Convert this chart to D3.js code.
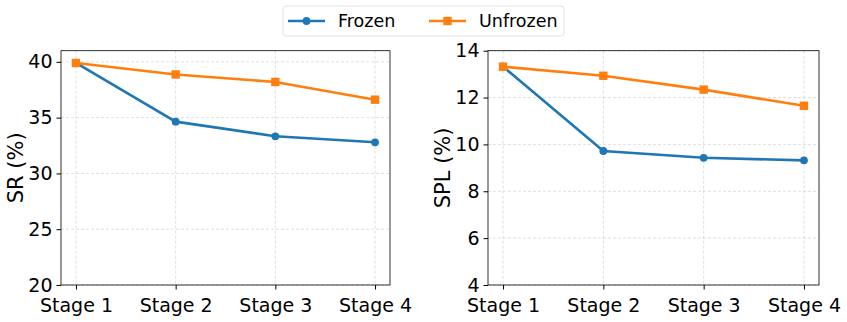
<!DOCTYPE html>
<html>
<head>
<meta charset="UTF-8">
<script src="https://d3js.org/d3.v7.min.js"></script>
<style>
  body { margin: 0; background: #fff; }
  svg text { font-family: "DejaVu Sans", sans-serif; fill: #000; }
</style>
</head>
<body>
<svg id="chart"></svg>
<script>
// data
const stages = ["Stage 1", "Stage 2", "Stage 3", "Stage 4"];
const seriesNames = ["Frozen", "Unfrozen"];
const srFrozen = [39.9, 34.64, 33.33, 32.79];
const srUnfrozen = [39.9, 38.87, 38.2, 36.61];
const splFrozen = [13.32, 9.72, 9.43, 9.32];
const splUnfrozen = [13.32, 12.93, 12.34, 11.65];
const srTicks = [20, 25, 30, 35, 40];
const splTicks = [4, 6, 8, 10, 12, 14];

const colors = ["#1f77b4", "#ff7f0e"];
const W = 847, H = 322;
const svg = d3.select("#chart").attr("width", W).attr("height", H);

function drawPanel(left, right, top, bottom, yDomain, yTicks, ylabel, labelX, frozen, unfrozen) {
  const x = d3.scaleLinear().domain([-0.15, 3.15]).range([left, right]);
  const y = d3.scaleLinear().domain(yDomain).range([bottom, top]);
  const g = svg.append("g");

  // grid
  g.selectAll(".gx").data(stages).enter().append("line")
    .attr("x1", (d, i) => x(i)).attr("x2", (d, i) => x(i))
    .attr("y1", top).attr("y2", bottom)
    .attr("stroke", "#b0b0b0").attr("stroke-opacity", 0.5)
    .attr("stroke-width", 0.8).attr("stroke-dasharray", "3,2");
  g.selectAll(".gy").data(yTicks).enter().append("line")
    .attr("x1", left).attr("x2", right)
    .attr("y1", d => y(d)).attr("y2", d => y(d))
    .attr("stroke", "#b0b0b0").attr("stroke-opacity", 0.5)
    .attr("stroke-width", 0.8).attr("stroke-dasharray", "3,2");

  // axes
  const xAxis = d3.axisBottom(x).tickValues([0, 1, 2, 3])
    .tickFormat(i => stages[i]).tickSizeInner(4.5).tickSizeOuter(0).tickPadding(9.5);
  const gx = g.append("g").attr("transform", `translate(0,${bottom})`).call(xAxis);
  gx.select(".domain").remove();
  gx.selectAll("text").style("font-size", "19px");

  const yAxis = d3.axisLeft(y).tickValues(yTicks)
    .tickSizeInner(4.5).tickSizeOuter(0).tickPadding(4);
  const gy = g.append("g").attr("transform", `translate(${left},0)`).call(yAxis);
  gy.select(".domain").remove();
  gy.selectAll("text").style("font-size", "19px");

  g.append("rect").attr("x", left).attr("y", top)
    .attr("width", right - left).attr("height", bottom - top)
    .attr("fill", "none").attr("stroke", "#000").attr("stroke-width", 0.8);

  g.append("text")
    .attr("transform", `translate(${labelX},${(top + bottom) / 2}) rotate(-90)`)
    .attr("text-anchor", "middle").attr("dominant-baseline", "central")
    .style("font-size", "21px").text(ylabel);

  const line = d3.line().x((d, i) => x(i)).y(d => y(d));
  [frozen, unfrozen].forEach((vals, k) => {
    g.append("path").datum(vals).attr("d", line)
      .attr("fill", "none").attr("stroke", colors[k]).attr("stroke-width", 2.6);
    if (k === 0) {
      g.selectAll(".m0").data(vals).enter().append("circle")
        .attr("cx", (d, i) => x(i)).attr("cy", d => y(d)).attr("r", 3.9)
        .attr("fill", colors[k]);
    } else {
      g.selectAll(".m1").data(vals).enter().append("rect")
        .attr("x", (d, i) => x(i) - 4.2).attr("y", d => y(d) - 4.2)
        .attr("width", 8.4).attr("height", 8.4).attr("fill", colors[k]);
    }
  });
}

drawPanel(61, 390, 50.7, 285, [20, 41], srTicks, "SR (%)", 16, srFrozen, srUnfrozen);
drawPanel(488, 819, 50.7, 285, [4, 14], splTicks, "SPL (%)", 443, splFrozen, splUnfrozen);

// legend
const lg = svg.append("g");
lg.append("rect").attr("x", 283).attr("y", 6).attr("width", 281).attr("height", 30)
  .attr("rx", 3).attr("fill", "#fff").attr("stroke", "#d9d9d9").attr("stroke-width", 0.8);
const legendX = [288, 429];
seriesNames.forEach((name, k) => {
  const lx = legendX[k];
  lg.append("line").attr("x1", lx).attr("x2", lx + 37).attr("y1", 21).attr("y2", 21)
    .attr("stroke", colors[k]).attr("stroke-width", 2.6);
  if (k === 0) {
    lg.append("circle").attr("cx", lx + 18.5).attr("cy", 21).attr("r", 3.9).attr("fill", colors[k]);
  } else {
    lg.append("rect").attr("x", lx + 14.3).attr("y", 16.8).attr("width", 8.4).attr("height", 8.4).attr("fill", colors[k]);
  }
  lg.append("text").attr("x", lx + 50).attr("y", 21).attr("dominant-baseline", "central")
    .style("font-size", "17.5px").text(name);
});
</script>
</body>
</html>
